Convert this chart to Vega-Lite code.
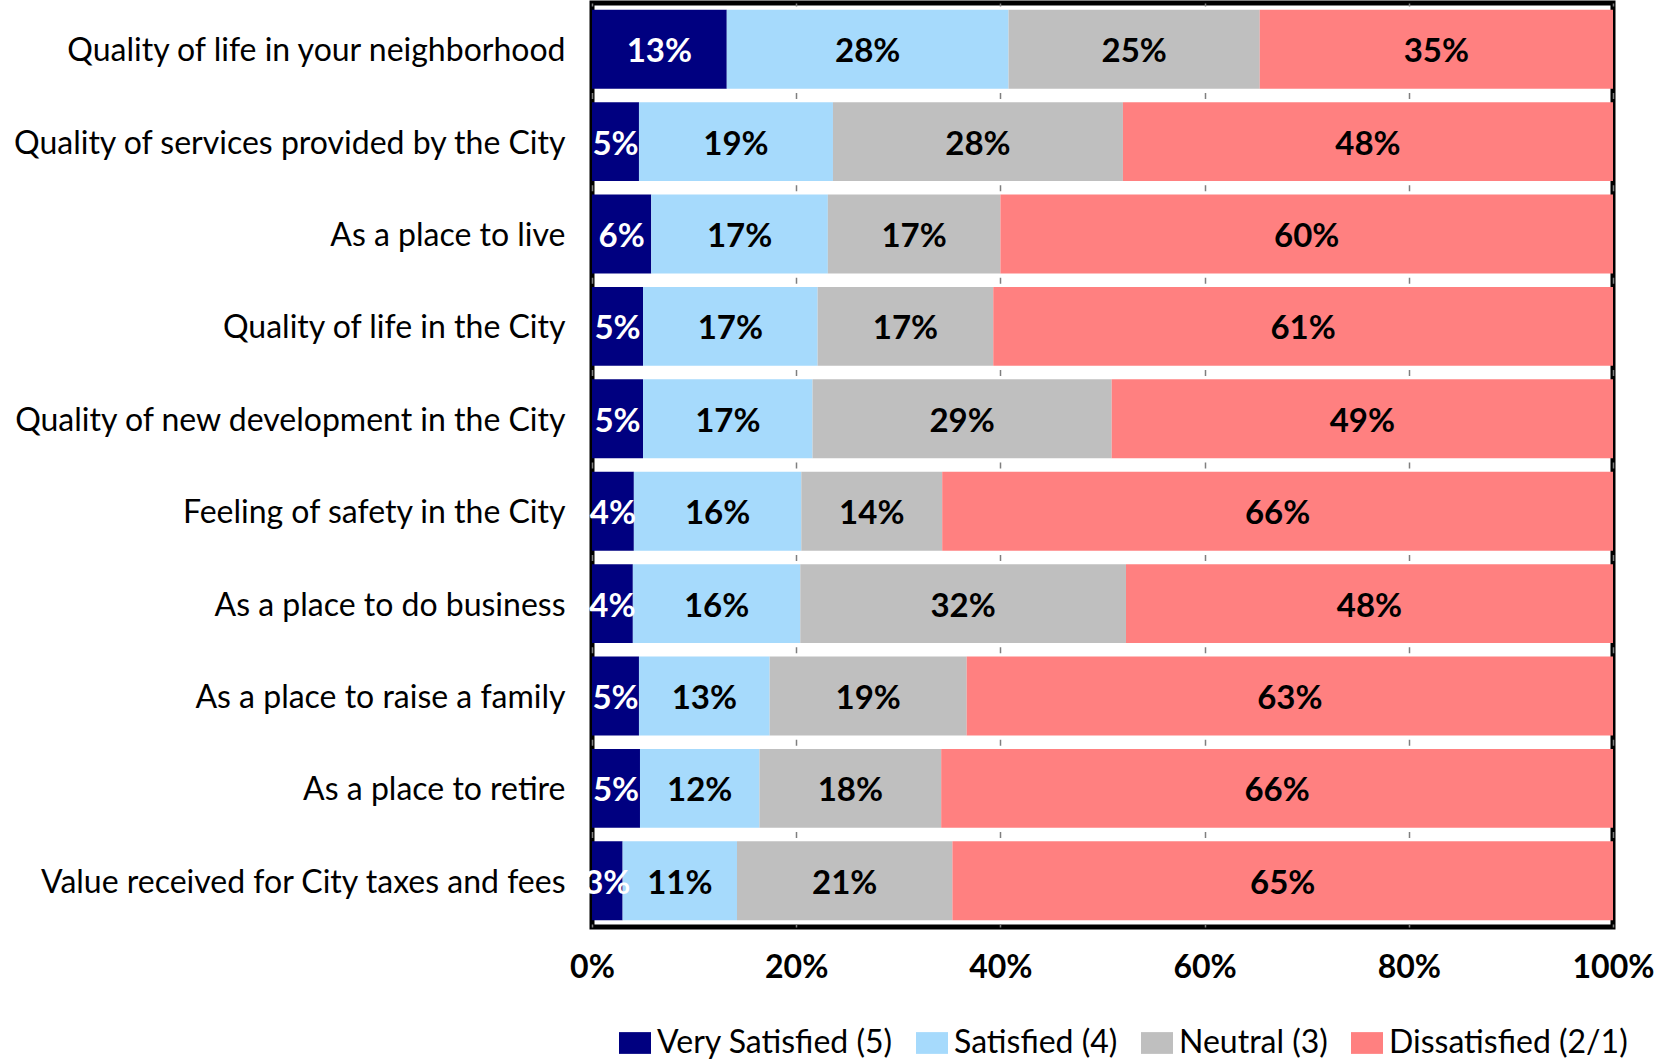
{
  "$schema": "https://vega.github.io/schema/vega-lite/v6.json",
  "width": 1021,
  "height": 924,
  "autosize": {"type": "none"},
  "padding": {"left": 592, "top": 3, "right": 43, "bottom": 137},
  "background": "white",
  "config": {"view": {"stroke": "black", "strokeWidth": 5}, "font": "Lato"},
  "data": {"values": [
    {"q": "Quality of life in your neighborhood", "r": "Very Satisfied (5)", "k": 1, "v": 0.132},
    {"q": "Quality of life in your neighborhood", "r": "Satisfied (4)", "k": 2, "v": 0.276},
    {"q": "Quality of life in your neighborhood", "r": "Neutral (3)", "k": 3, "v": 0.246},
    {"q": "Quality of life in your neighborhood", "r": "Dissatisfied (2/1)", "k": 4, "v": 0.346},
    {"q": "Quality of services provided by the City", "r": "Very Satisfied (5)", "k": 1, "v": 0.046},
    {"q": "Quality of services provided by the City", "r": "Satisfied (4)", "k": 2, "v": 0.190},
    {"q": "Quality of services provided by the City", "r": "Neutral (3)", "k": 3, "v": 0.284},
    {"q": "Quality of services provided by the City", "r": "Dissatisfied (2/1)", "k": 4, "v": 0.480},
    {"q": "As a place to live", "r": "Very Satisfied (5)", "k": 1, "v": 0.058},
    {"q": "As a place to live", "r": "Satisfied (4)", "k": 2, "v": 0.173},
    {"q": "As a place to live", "r": "Neutral (3)", "k": 3, "v": 0.169},
    {"q": "As a place to live", "r": "Dissatisfied (2/1)", "k": 4, "v": 0.600},
    {"q": "Quality of life in the City", "r": "Very Satisfied (5)", "k": 1, "v": 0.050},
    {"q": "Quality of life in the City", "r": "Satisfied (4)", "k": 2, "v": 0.171},
    {"q": "Quality of life in the City", "r": "Neutral (3)", "k": 3, "v": 0.172},
    {"q": "Quality of life in the City", "r": "Dissatisfied (2/1)", "k": 4, "v": 0.607},
    {"q": "Quality of new development in the City", "r": "Very Satisfied (5)", "k": 1, "v": 0.050},
    {"q": "Quality of new development in the City", "r": "Satisfied (4)", "k": 2, "v": 0.166},
    {"q": "Quality of new development in the City", "r": "Neutral (3)", "k": 3, "v": 0.293},
    {"q": "Quality of new development in the City", "r": "Dissatisfied (2/1)", "k": 4, "v": 0.491},
    {"q": "Feeling of safety in the City", "r": "Very Satisfied (5)", "k": 1, "v": 0.041},
    {"q": "Feeling of safety in the City", "r": "Satisfied (4)", "k": 2, "v": 0.164},
    {"q": "Feeling of safety in the City", "r": "Neutral (3)", "k": 3, "v": 0.138},
    {"q": "Feeling of safety in the City", "r": "Dissatisfied (2/1)", "k": 4, "v": 0.657},
    {"q": "As a place to do business", "r": "Very Satisfied (5)", "k": 1, "v": 0.040},
    {"q": "As a place to do business", "r": "Satisfied (4)", "k": 2, "v": 0.164},
    {"q": "As a place to do business", "r": "Neutral (3)", "k": 3, "v": 0.319},
    {"q": "As a place to do business", "r": "Dissatisfied (2/1)", "k": 4, "v": 0.477},
    {"q": "As a place to raise a family", "r": "Very Satisfied (5)", "k": 1, "v": 0.046},
    {"q": "As a place to raise a family", "r": "Satisfied (4)", "k": 2, "v": 0.128},
    {"q": "As a place to raise a family", "r": "Neutral (3)", "k": 3, "v": 0.193},
    {"q": "As a place to raise a family", "r": "Dissatisfied (2/1)", "k": 4, "v": 0.633},
    {"q": "As a place to retire", "r": "Very Satisfied (5)", "k": 1, "v": 0.047},
    {"q": "As a place to retire", "r": "Satisfied (4)", "k": 2, "v": 0.117},
    {"q": "As a place to retire", "r": "Neutral (3)", "k": 3, "v": 0.178},
    {"q": "As a place to retire", "r": "Dissatisfied (2/1)", "k": 4, "v": 0.658},
    {"q": "Value received for City taxes and fees", "r": "Very Satisfied (5)", "k": 1, "v": 0.030},
    {"q": "Value received for City taxes and fees", "r": "Satisfied (4)", "k": 2, "v": 0.112},
    {"q": "Value received for City taxes and fees", "r": "Neutral (3)", "k": 3, "v": 0.211},
    {"q": "Value received for City taxes and fees", "r": "Dissatisfied (2/1)", "k": 4, "v": 0.647}
  ]},
  "encoding": {
    "y": {
      "field": "q", "type": "nominal", "sort": null,
      "scale": {"paddingInner": 0.146, "paddingOuter": 0.073},
      "axis": {"title": null, "ticks": false, "domain": false, "labelFont": "Lato", "labelFontSize": 32, "labelColor": "black", "labelPadding": 27, "labelLimit": 700, "labelOffset": 2}
    }
  },
  "layer": [
    {
      "mark": {"type": "bar"},
      "encoding": {
        "x": {
          "field": "v", "type": "quantitative", "stack": "zero",
          "scale": {"domain": [0, 1], "nice": false},
          "axis": {"title": null, "format": ".0%", "values": [0, 0.2, 0.4, 0.6, 0.8, 1], "ticks": false, "domain": false,
                   "labelFont": "Lato", "labelFontWeight": "bold", "labelFontSize": 32, "labelColor": "black", "labelPadding": 25, "labelFlush": false,
                   "gridColor": "#7f7f7f", "gridWidth": 1.5, "gridDash": [6, 86.4], "gridDashOffset": 3}
        },
        "order": {"field": "k"},
        "color": {
          "field": "r", "type": "nominal",
          "scale": {"domain": ["Very Satisfied (5)", "Satisfied (4)", "Neutral (3)", "Dissatisfied (2/1)"], "range": ["#000080", "#A6DAFC", "#BFBFBF", "#FF8080"]},
          "legend": {"orient": "none", "legendX": 27, "legendY": 1024, "direction": "horizontal", "title": null,
                     "symbolType": "M-1,-0.68L1,-0.68L1,0.68L-1,0.68Z", "symbolSize": 1024, "symbolStrokeWidth": 0, "symbolOpacity": 1,
                     "labelFont": "Lato", "labelFontSize": 32, "labelColor": "black", "labelOffset": 6, "columnPadding": 23, "labelLimit": 400}
        }
      }
    },
    {
      "mark": {"type": "text", "font": "Lato", "fontWeight": "bold", "fontSize": 33, "baseline": "middle", "align": "center", "dy": 3},
      "encoding": {
        "x": {"field": "v", "type": "quantitative", "stack": "zero", "bandPosition": 0.5},
        "order": {"field": "k"},
        "detail": {"field": "r"},
        "text": {"field": "v", "type": "quantitative", "format": ".0%"},
        "color": {"condition": {"test": "datum.r === 'Very Satisfied (5)'", "value": "white"}, "value": "black"}
      }
    }
  ]
}
